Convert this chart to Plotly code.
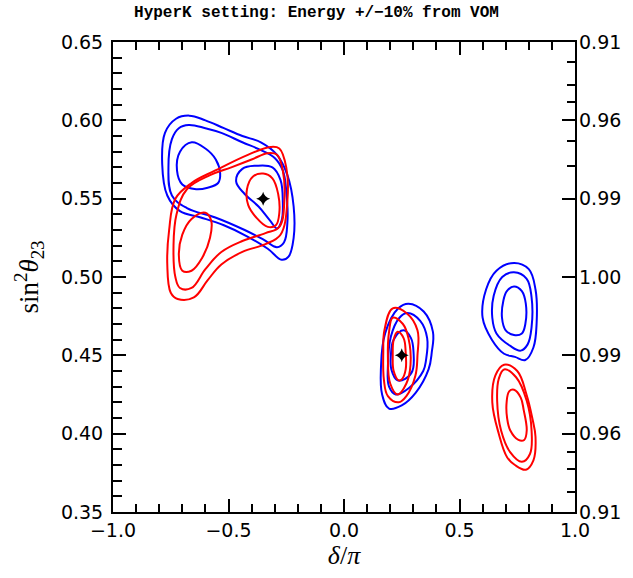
import plotly.graph_objects as go

title_text = "HyperK setting: Energy +/−10% from VOM"

# ---- x / y tick labels ----
x_major = [-1.0, -0.5, 0.0, 0.5, 1.0]
x_labels = ["−1.0", "−0.5", "0.0", "0.5", "1.0"]
y_major = [0.35, 0.40, 0.45, 0.50, 0.55, 0.60, 0.65]
y_labels = ["0.35", "0.40", "0.45", "0.50", "0.55", "0.60", "0.65"]
# right axis: sin^2(2 theta23) labels at the same heights
right_labels = ["0.91", "0.96", "0.99", "1.00", "0.99", "0.96", "0.91"]
right_minor_vals = [0.925, 0.94, 0.95, 0.97, 0.98]   # sin^2 2theta minor ticks

# ---- best-fit points (delta/pi, sin^2 theta23) ----
best_x = [-0.35, 0.25]
best_y = [0.55, 0.45]

# ---- contour curves: (delta/pi, sin^2 theta23) ----
blue_A3 = [(-0.67,0.603),(-0.60,0.600),(-0.52,0.595),(-0.44,0.590),(-0.36,0.586),(-0.29,0.578),
           (-0.245,0.565),(-0.218,0.545),(-0.218,0.525),(-0.24,0.513),(-0.27,0.511),(-0.33,0.518),
           (-0.42,0.526),(-0.52,0.533),(-0.62,0.538),(-0.71,0.542),(-0.765,0.552),(-0.787,0.572),
           (-0.775,0.592),(-0.727,0.601)]
blue_A2 = [(-0.672,0.597),(-0.60,0.595),(-0.531,0.592),(-0.44,0.586),(-0.36,0.581),(-0.30,0.576),
           (-0.265,0.568),(-0.25,0.555),(-0.245,0.535),(-0.26,0.522),(-0.29,0.519),(-0.35,0.524),
           (-0.43,0.530),(-0.557,0.538),(-0.68,0.544),(-0.745,0.552),(-0.76,0.570),(-0.745,0.588),
           (-0.715,0.595)]
blue_A1_left = [(-0.659,0.586),(-0.60,0.582),(-0.555,0.575),(-0.536,0.566),(-0.545,0.560),(-0.59,0.557),
                (-0.64,0.556),(-0.70,0.559),(-0.723,0.568),(-0.71,0.580)]
blue_A1_right = [(-0.38,0.571),(-0.31,0.570),(-0.275,0.562),(-0.265,0.548),(-0.27,0.536),(-0.29,0.531),
                 (-0.32,0.536),(-0.37,0.545),(-0.43,0.553),(-0.467,0.561),(-0.44,0.569)]

red_A3 = [(-0.765,0.508),(-0.75,0.490),(-0.72,0.486),(-0.65,0.487),(-0.59,0.498),(-0.531,0.508),
          (-0.44,0.516),(-0.34,0.521),(-0.275,0.527),(-0.245,0.549),(-0.25,0.570),(-0.28,0.582),
          (-0.318,0.583),(-0.416,0.578),(-0.557,0.568),(-0.66,0.560),(-0.73,0.550),(-0.757,0.530)]
red_A2 = [(-0.738,0.520),(-0.73,0.500),(-0.71,0.493),(-0.66,0.493),(-0.60,0.505),(-0.531,0.516),
          (-0.44,0.523),(-0.34,0.528),(-0.28,0.532),(-0.258,0.549),(-0.265,0.568),(-0.29,0.578),
          (-0.33,0.579),(-0.40,0.575),(-0.488,0.570),(-0.58,0.565),(-0.68,0.556),(-0.725,0.540)]
red_A1_left = [(-0.60,0.541),(-0.575,0.536),(-0.58,0.525),(-0.615,0.512),(-0.66,0.504),(-0.70,0.504),
               (-0.715,0.514),(-0.70,0.527),(-0.66,0.537)]
red_A1_right = [(-0.35,0.566),(-0.31,0.563),(-0.285,0.553),(-0.28,0.541),(-0.295,0.533),(-0.33,0.532),
                (-0.38,0.538),(-0.415,0.546),(-0.42,0.556),(-0.395,0.564)]

blue_B3 = [(0.279,0.483),(0.345,0.478),(0.385,0.465),(0.38,0.452),(0.366,0.441),(0.31,0.426),
           (0.25,0.418),(0.195,0.416),(0.165,0.425),(0.160,0.442),(0.178,0.464),(0.235,0.480)]
blue_B2 = [(0.275,0.477),(0.33,0.472),(0.360,0.461),(0.355,0.447),(0.343,0.440),(0.28,0.429),
           (0.224,0.425),(0.195,0.430),(0.190,0.443),(0.203,0.462),(0.24,0.474)]
blue_B1 = [(0.258,0.466),(0.29,0.461),(0.301,0.452),(0.296,0.440),(0.265,0.435),(0.232,0.434),
           (0.205,0.441),(0.203,0.450),(0.215,0.460)]
red_B3 = [(0.211,0.480),(0.27,0.477),(0.318,0.466),(0.318,0.450),(0.309,0.437),(0.27,0.424),
          (0.237,0.420),(0.19,0.424),(0.173,0.434),(0.170,0.452),(0.175,0.466)]
red_B2 = [(0.211,0.474),(0.255,0.470),(0.279,0.461),(0.288,0.444),(0.27,0.432),(0.232,0.425),
          (0.200,0.432),(0.190,0.449),(0.195,0.465)]
red_B1 = [(0.232,0.465),(0.258,0.461),(0.267,0.452),(0.267,0.441),(0.252,0.435),(0.237,0.434),
          (0.215,0.440),(0.211,0.450),(0.215,0.460)]

blue_C3 = [(0.736,0.509),(0.80,0.505),(0.829,0.492),(0.834,0.471),(0.82,0.455),(0.785,0.447),
           (0.74,0.449),(0.693,0.451),(0.64,0.460),(0.60,0.474),(0.615,0.492),(0.66,0.504)]
blue_C2 = [(0.736,0.503),(0.79,0.499),(0.812,0.487),(0.812,0.468),(0.795,0.457),(0.765,0.453),
           (0.72,0.456),(0.66,0.464),(0.642,0.474),(0.648,0.488),(0.685,0.500)]
blue_C1 = [(0.736,0.494),(0.77,0.491),(0.787,0.483),(0.785,0.470),(0.770,0.464),(0.736,0.463),
           (0.70,0.466),(0.684,0.474),(0.690,0.485),(0.705,0.491)]
red_C3 = [(0.693,0.444),(0.75,0.440),(0.79,0.425),(0.815,0.410),(0.829,0.398),(0.82,0.383),
          (0.787,0.377),(0.74,0.380),(0.706,0.385),(0.67,0.400),(0.642,0.420),(0.655,0.437)]
red_C2 = [(0.693,0.441),(0.745,0.436),(0.791,0.421),(0.812,0.402),(0.805,0.387),(0.770,0.382),
          (0.72,0.388),(0.680,0.402),(0.663,0.421),(0.670,0.435)]
red_C1 = [(0.736,0.428),(0.765,0.423),(0.778,0.415),(0.791,0.402),(0.780,0.396),(0.755,0.396),
          (0.720,0.402),(0.706,0.410),(0.704,0.420),(0.715,0.427)]

blue_curves = [blue_A3, blue_A2, blue_A1_left, blue_A1_right,
               blue_B3, blue_B2, blue_B1, blue_C3, blue_C2, blue_C1]
red_curves = [red_A3, red_A2, red_A1_left, red_A1_right,
              red_B3, red_B2, red_B1, red_C3, red_C2, red_C1]

fig = go.Figure()

def add_curve(pts, color):
    xs = [p[0] for p in pts] + [pts[0][0]]
    ys = [p[1] for p in pts] + [pts[0][1]]
    fig.add_trace(go.Scatter(x=xs, y=ys, mode="lines",
                             line=dict(color=color, width=2, shape="spline", smoothing=1.1),
                             hoverinfo="skip", showlegend=False))

for c in blue_curves:
    add_curve(c, "#0000ff")
for c in red_curves:
    add_curve(c, "#ff0000")

fig.add_trace(go.Scatter(x=best_x, y=best_y, mode="markers",
                         marker=dict(symbol="star-diamond", size=10, color="black"),
                         showlegend=False, hoverinfo="skip"))
# empty traces to register the right-hand axes
fig.add_trace(go.Scatter(x=[None], y=[None], yaxis="y2", showlegend=False, hoverinfo="skip"))
fig.add_trace(go.Scatter(x=[None], y=[None], yaxis="y3", showlegend=False, hoverinfo="skip"))

right_minor_pos = []
for s in right_minor_vals:
    d = (1 - s) ** 0.5 / 2
    right_minor_pos += [0.5 + d, 0.5 - d]

tickfont = dict(family="DejaVu Sans", size=19, color="black")
yrange = [0.35, 0.65]

fig.update_layout(
    width=633, height=578,
    margin=dict(l=113, r=51, t=42, b=66),
    paper_bgcolor="white", plot_bgcolor="white",
    title=dict(text="<b>" + title_text + "</b>", x=0.5, xanchor="center", y=0.99, yanchor="top",
               font=dict(family="Liberation Mono", size=16, color="black")),
    xaxis=dict(range=[-1, 1], tickvals=x_major, ticktext=x_labels,
               ticks="inside", ticklen=13, tickwidth=1.5, tickcolor="black",
               minor=dict(tick0=-1, dtick=0.1, ticks="inside", ticklen=8, tickwidth=1.5, tickcolor="black"),
               showline=True, linecolor="black", linewidth=2, mirror="ticks",
               showgrid=False, zeroline=False, tickfont=tickfont,
               title=dict(text="<i>δ</i>/<i>π</i>", standoff=4,
                          font=dict(family="Liberation Serif", size=26, color="black"))),
    yaxis=dict(range=yrange, tickvals=y_major, ticktext=y_labels,
               ticks="inside", ticklen=13, tickwidth=1.5, tickcolor="black",
               minor=dict(tick0=0.35, dtick=0.01, ticks="inside", ticklen=9, tickwidth=1.5, tickcolor="black"),
               showline=True, linecolor="black", linewidth=2, mirror=True,
               showgrid=False, zeroline=False, tickfont=tickfont, ticklabelstandoff=4,
               title=dict(text="sin<sup>2</sup><i>θ</i><sub>23</sub>", standoff=14,
                          font=dict(family="Liberation Serif", size=27, color="black"))),
    yaxis2=dict(range=yrange, overlaying="y", side="right", tickvals=y_major[::-1],
                ticktext=right_labels, ticks="inside", ticklen=13, tickwidth=1.5, tickcolor="black",
                showline=False, showgrid=False, zeroline=False, tickfont=tickfont,
                ticklabelstandoff=3),
    yaxis3=dict(range=yrange, overlaying="y", side="right", tickvals=right_minor_pos,
                showticklabels=False, ticks="inside", ticklen=8, tickwidth=1.5, tickcolor="black",
                showline=False, showgrid=False, zeroline=False),
)

fig.write_html("out.html")
